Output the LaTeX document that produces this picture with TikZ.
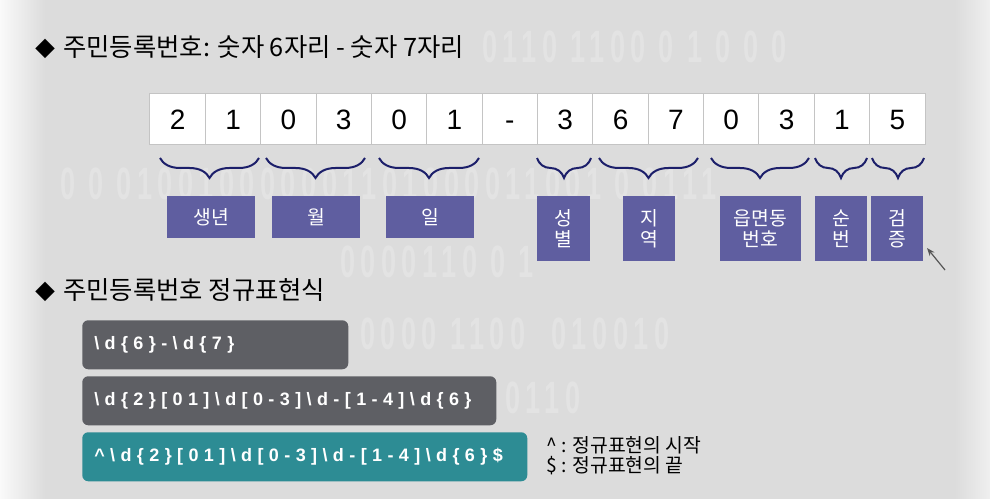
\documentclass[tikz,border=0pt]{standalone}
\usepackage{fontspec}
\setmainfont{Noto Sans CJK KR}
\newfontfamily\regexfont{Liberation Sans}[LetterSpace=30]
\newfontfamily\digitfont{Liberation Sans}
\newfontfamily\binfont{Liberation Sans}[LetterSpace=20]
\usetikzlibrary{decorations.pathreplacing,arrows.meta,calc}
\definecolor{bgc}{HTML}{DCDCDC}
\definecolor{cellb}{HTML}{C4C4C4}
\definecolor{navy}{HTML}{1C1F6A}
\definecolor{labc}{HTML}{5F5EA0}
\definecolor{rgray}{HTML}{5E5F64}
\definecolor{rteal}{HTML}{2D8C94}
\definecolor{arrc}{HTML}{555555}
\newcommand{\binrow}[1]{\scalebox{0.6}[1]{#1}}
\newcommand{\diam}{{\fontsize{15}{15}\selectfont ◆}\hspace{6pt}}
\tikzset{
  cell/.style={draw=cellb, fill=white, line width=0.75pt, minimum width=41.52pt, minimum height=38.25pt, inner sep=0pt, font=\digitfont\fontsize{21}{21}\selectfont},
  bracestyle/.style={draw=navy, line width=1.5pt, decorate, decoration={brace, mirror, amplitude=15pt, aspect=0.5}},
  lab/.style={fill=labc, text=white, inner sep=0pt, align=center, font=\fontsize{14.5}{15.5}\selectfont},
  header/.style={anchor=base west, inner sep=0pt, font=\fontsize{19}{19}\selectfont},
  rbox/.style={rounded corners=4.5pt, anchor=north west, inner sep=0pt, minimum height=36.75pt},
  rtext/.style={anchor=west, inner sep=0pt, text=white, font=\regexfont\bfseries\fontsize{13.5}{13.5}\selectfont},
  legend/.style={anchor=base west, inner sep=0pt, font=\fontsize{14.5}{14.5}\selectfont},
  bin/.style={anchor=west, inner sep=0pt, text=white, opacity=0.2, font=\binfont\bfseries\fontsize{34}{34}\selectfont}
}
\begin{document}
\begin{tikzpicture}[x=0.75pt,y=-0.75pt]
\useasboundingbox (0,0) rectangle (990,499);
\fill[bgc] (0,0) rectangle (990,499);
\shade[left color=white!85!bgc, right color=bgc] (0,0) rectangle (45,499);
\shade[left color=bgc, right color=white!55!bgc] (955,0) rectangle (990,499);
% faint binary background
\node[bin] (b1) at (482,47) {\binrow{0110 1100 0 1 0 0 0}};
\node[bin] (b2) at (60,184) {\binrow{0 0 010010000001101000011001 0 0111}};
\node[bin] (b3) at (340,262) {\binrow{0000110 0 1}};
\node[bin] (b4) at (360,334) {\binrow{0000 1100 \ 010010}};
\node[bin] (b5) at (505,398) {\binrow{0110}};
% headers
\node[header] (h1) at (35,57) {\diam 주민등록번호: 숫자 6자리 - 숫자 7자리};
\node[header] (h2) at (35,300) {\diam 주민등록번호 정규표현식};
% cells
\foreach \d [count=\i] in {2,1,0,3,0,1,-,3,6,7,0,3,1,5}
  \node[cell] (c\i) at ({150+55.357*(\i-0.5)},119.5) {\vphantom{0}\d};
% braces
\draw[bracestyle] (160,158) -- (259,158);
\draw[bracestyle] (266,158) -- (365,158);
\draw[bracestyle] (379,158) -- (479,158);
\draw[bracestyle] (537,158) -- (591,158);
\draw[bracestyle] (599,158) -- (698,158);
\draw[bracestyle] (711,158) -- (809,158);
\draw[bracestyle] (815,158) -- (867,158);
\draw[bracestyle] (872,158) -- (924,158);
% labels
\node[lab, minimum width=66pt, minimum height=31.5pt] (L1) at (211,217) {생년};
\node[lab, minimum width=66pt, minimum height=31.5pt] (L2) at (316,217) {월};
\node[lab, minimum width=66pt, minimum height=31.5pt] (L3) at (430,217) {일};
\node[lab, minimum width=39.75pt, minimum height=48.75pt] (L4) at (563.5,228.5) {성\\별};
\node[lab, minimum width=39pt, minimum height=48.75pt] (L5) at (649,228.5) {지\\역};
\node[lab, minimum width=60.75pt, minimum height=48.75pt] (L6) at (760.5,228.5) {읍면동\\번호};
\node[lab, minimum width=39pt, minimum height=48.75pt] (L7) at (841,228.5) {순\\번};
\node[lab, minimum width=39pt, minimum height=48.75pt] (L8) at (897,228.5) {검\\증};
\coordinate (atail) at (945,270);
\coordinate (ahead) at (927,248);
\draw[arrc, line width=0.9pt, -{Stealth[length=6pt,width=4.5pt]}] (atail) -- (ahead);
% regex boxes
\node[rbox, fill=rgray, minimum width=199.5pt] (R1) at (82,320) {};
\node[rbox, fill=rgray, minimum width=310.5pt] (R2) at (82,376) {};
\node[rbox, fill=rteal, minimum width=333.75pt] (R3) at (82,432) {};
\node[rtext] (T1) at ($(R1.west)+(12,0)$) {\textbackslash d\{6\}-\textbackslash d\{7\}};
\node[rtext] (T2) at ($(R2.west)+(12,0)$) {\textbackslash d\{2\}[01]\textbackslash d[0-3]\textbackslash d-[1-4]\textbackslash d\{6\}};
\node[rtext] (T3) at ($(R3.west)+(12,0)$) {\textasciicircum\textbackslash d\{2\}[01]\textbackslash d[0-3]\textbackslash d-[1-4]\textbackslash d\{6\}\$};
% legend
\node[legend] (n1) at (546,452) {\textasciicircum\ : 정규표현의 시작};
\node[legend] (n2) at (546,472) {\$ : 정규표현의 끝};
\end{tikzpicture}
\end{document}
